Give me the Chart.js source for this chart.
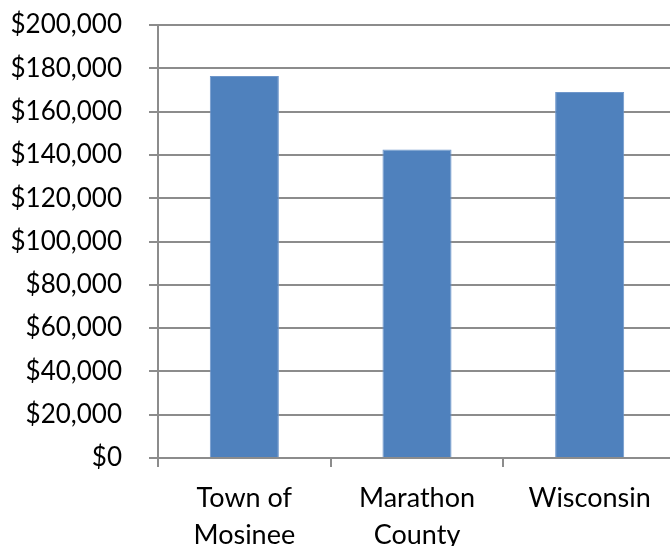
<!DOCTYPE html>
<html>
<head>
<meta charset="utf-8">
<script src="https://cdn.jsdelivr.net/npm/chart.js@4"></script>
<style>
  html, body { margin: 0; padding: 0; background: #fff; overflow: hidden; }
  #wrap { position: relative; width: 676px; height: 546px; }
</style>
</head>
<body>
<div id="wrap"><canvas id="chart"></canvas></div>
<script>
// median home value by area
var areas = [['Town of', 'Mosinee'], ['Marathon', 'County'], 'Wisconsin'];
var medianValues = [176500, 142500, 169000];
var yTicks = [0, 20000, 40000, 60000, 80000, 100000, 120000, 140000, 160000, 180000, 200000];

var gridColor = '#8c8c8c';
var barColor = '#4F81BD';

function dollars(v) {
  return '$' + v.toLocaleString('en-US');
}

var ctx = document.getElementById('chart').getContext('2d');

new Chart(ctx, {
  type: 'bar',
  data: {
    labels: areas,
    datasets: [{
      data: medianValues,
      backgroundColor: barColor,
      borderColor: '#6f97cb',
      borderWidth: 1,
      barPercentage: 0.4,
      categoryPercentage: 1
    }]
  },
  options: {
    responsive: true,
    maintainAspectRatio: false,
    animation: false,
    layout: { padding: { top: 25, left: 0, right: 0, bottom: 0 } },
    plugins: {
      legend: { display: false },
      tooltip: { enabled: false }
    },
    scales: {
      x: {
        offset: true,
        grid: {
          offset: true,
          drawOnChartArea: false,
          color: gridColor,
          lineWidth: 2,
          tickLength: 9
        },
        border: { color: gridColor, width: 2 },
        ticks: {
          color: '#000',
          padding: 12,
          maxRotation: 0,
          font: { family: 'Lato', size: 27, lineHeight: 1.4 }
        },
        afterFit: function (s) { s.height = 88; }
      },
      y: {
        min: 0,
        max: 200000,
        afterBuildTicks: function (axis) {
          axis.ticks = yTicks.map(function (v) { return { value: v }; });
        },
        grid: { color: gridColor, lineWidth: 2, tickLength: 9 },
        border: { color: gridColor, width: 2 },
        ticks: {
          color: '#000',
          padding: 27,
          font: { family: 'Lato', size: 26 },
          callback: function (v) { return dollars(v); }
        },
        afterFit: function (s) {
          // fixed axis width; the big label padding shouldn't push the plot down
          s.width = 158;
          s.paddingTop = 0;
          s.paddingBottom = 0;
        }
      }
    }
  }
});
</script>
</body>
</html>
